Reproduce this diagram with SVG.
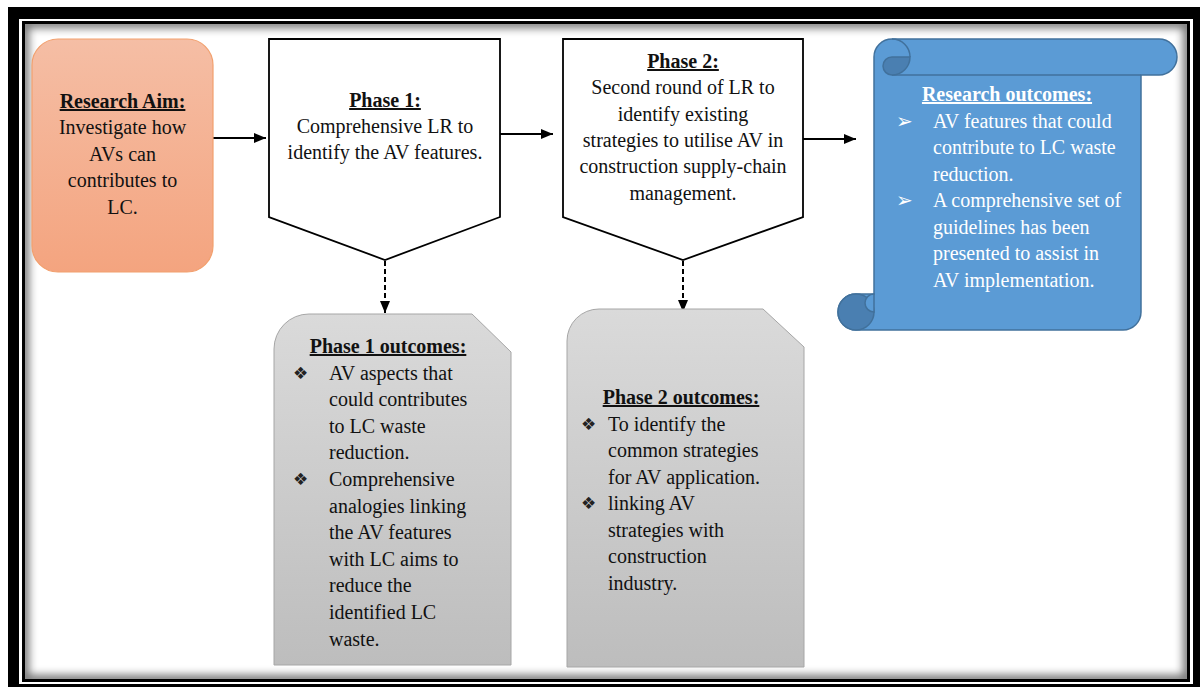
<svg xmlns="http://www.w3.org/2000/svg" width="1200" height="687" viewBox="0 0 1200 687">
<defs>
<style>
.t{font-family:"Liberation Serif","Times New Roman",serif;font-size:20px;fill:#111}
.h{font-weight:bold;text-decoration:underline}
.c{text-anchor:middle}
.w{fill:#fff}
.b{font-family:"DejaVu Sans",sans-serif;font-size:17px;fill:#222}
.bw{font-family:"DejaVu Sans",sans-serif;font-size:20px;fill:#fff}
.phase{fill:#fff;stroke:#000;stroke-width:1.8;stroke-linejoin:miter}
.out{stroke:#A6A6A6;stroke-width:1;fill:url(#gGray)}
.arr{stroke:#000;stroke-width:2;fill:none}
.dash{stroke:#000;stroke-width:2;fill:none;stroke-dasharray:5 3}
</style>
<linearGradient id="gGray" x1="0" y1="0" x2="0" y2="1">
<stop offset="0" stop-color="#DADADA"/><stop offset="1" stop-color="#BDBDBD"/>
</linearGradient>
<linearGradient id="gOrange" x1="0" y1="0" x2="0" y2="1">
<stop offset="0" stop-color="#F5BEA5"/><stop offset="1" stop-color="#F4A47F"/>
</linearGradient>
<marker id="ah" viewBox="0 0 12 10" refX="12" refY="5" markerWidth="12" markerHeight="10" markerUnits="userSpaceOnUse" orient="auto">
<path d="M0,0 L12,5 L0,10 Z" fill="#000"/>
</marker>
<clipPath id="innerClip"><rect x="25" y="24" width="1162" height="655"/></clipPath>
<filter id="blur" x="-5%" y="-5%" width="110%" height="110%"><feGaussianBlur stdDeviation="4"/></filter>
</defs>

<g id="frame">
<rect x="8" y="7" width="1192" height="680" fill="#000"/>
<rect x="19" y="19" width="1174" height="665" fill="#fff"/>
<rect x="22" y="21" width="1168" height="661" fill="#000"/>
<rect x="25" y="24" width="1162" height="655" fill="#fff"/>
<g clip-path="url(#innerClip)">
<rect x="24" y="23" width="1164" height="657" fill="none" stroke="#000" stroke-opacity="0.55" stroke-width="10" filter="url(#blur)"/>
</g>
</g>

<g id="connectors">
<line class="arr" x1="213" y1="138" x2="266" y2="138" marker-end="url(#ah)"/>
<line class="arr" x1="500" y1="134" x2="553" y2="134" marker-end="url(#ah)"/>
<line class="arr" x1="803" y1="139" x2="856" y2="139" marker-end="url(#ah)"/>
<line class="dash" x1="385" y1="261" x2="385" y2="313" marker-end="url(#ah)"/>
<line class="dash" x1="683" y1="261" x2="683" y2="312" marker-end="url(#ah)"/>
</g>

<g id="research-aim">
<rect x="32" y="39" width="181" height="233" rx="26" ry="26" fill="url(#gOrange)" stroke="#F2A06E" stroke-width="1.2"/>
<text class="t h c" x="122.5" y="108">Research Aim:</text>
<text class="t c" x="122.5" y="134">Investigate how</text>
<text class="t c" x="122.5" y="161">AVs can</text>
<text class="t c" x="122.5" y="187">contributes to</text>
<text class="t c" x="122.5" y="214">LC.</text>
</g>

<g id="phase1">
<polygon class="phase" points="269,39 500,39 500,217 385,260 269,217"/>
<text class="t h c" x="385" y="107">Phase 1:</text>
<text class="t c" x="385" y="133">Comprehensive LR to</text>
<text class="t c" x="385" y="159">identify the AV features.</text>
</g>

<g id="phase2">
<polygon class="phase" points="563,39 803,39 803,217 683,260 563,217"/>
<text class="t h c" x="683" y="68">Phase 2:</text>
<text class="t c" x="683" y="94">Second round of LR to</text>
<text class="t c" x="683" y="121">identify existing</text>
<text class="t c" x="683" y="147">strategies to utilise AV in</text>
<text class="t c" x="683" y="173">construction supply-chain</text>
<text class="t c" x="683" y="200">management.</text>
</g>

<g id="research-outcomes">
<path d="M874,294 L874,57 A18,18 0 0 1 892,39 L1159,39 A18,18 0 0 1 1159,75 L1141,75 L1141,312 A18,18 0 0 1 1123,330 L856,330 A18,18 0 0 1 856,294 Z" fill="#5B9BD5" stroke="#41719C" stroke-width="1.5"/>
<line x1="892" y1="75" x2="1141" y2="75" stroke="#41719C" stroke-width="1.5"/>
<path d="M910,57 A18,18 0 0 1 892,75 A9,9 0 0 1 892,57 Z" fill="#4A7FB1" stroke="#41719C" stroke-width="1.5"/>
<path d="M892,39 A18,18 0 0 1 910,57" fill="none" stroke="#41719C" stroke-width="1.5"/>
<circle cx="856" cy="312" r="18" fill="#4A7FB1" stroke="#41719C" stroke-width="1.5"/>
<path d="M874,294 A9,9 0 0 0 874,312 Z" fill="#5B9BD5" stroke="#41719C" stroke-width="1.5"/>
<text class="t h c w" x="1007" y="101">Research outcomes:</text>
<text class="bw" x="896" y="128">➢</text>
<text class="t w" x="933" y="128">AV features that could</text>
<text class="t w" x="933" y="154">contribute to LC waste</text>
<text class="t w" x="933" y="181">reduction.</text>
<text class="bw" x="896" y="207">➢</text>
<text class="t w" x="933" y="207">A comprehensive set of</text>
<text class="t w" x="933" y="234">guidelines has been</text>
<text class="t w" x="933" y="260">presented to assist in</text>
<text class="t w" x="933" y="287">AV implementation.</text>
</g>

<g id="phase1-outcomes">
<path class="out" d="M274,665 L274,349 A35,35 0 0 1 309,314 L472,314 L511,352 L511,665 Z"/>
<text class="t h c" x="388" y="353">Phase 1 outcomes:</text>
<text class="b" x="293" y="379">❖</text>
<text class="t" x="329" y="380">AV aspects that</text>
<text class="t" x="329" y="406">could contributes</text>
<text class="t" x="329" y="433">to LC waste</text>
<text class="t" x="329" y="459">reduction.</text>
<text class="b" x="293" y="485">❖</text>
<text class="t" x="329" y="486">Comprehensive</text>
<text class="t" x="329" y="513">analogies linking</text>
<text class="t" x="329" y="539">the AV features</text>
<text class="t" x="329" y="566">with LC aims to</text>
<text class="t" x="329" y="592">reduce the</text>
<text class="t" x="329" y="619">identified LC</text>
<text class="t" x="329" y="646">waste.</text>
</g>

<g id="phase2-outcomes">
<path class="out" d="M567,667 L567,341 A32,32 0 0 1 599,309 L763,309 L804,347 L804,667 Z"/>
<text class="t h c" x="681" y="404">Phase 2 outcomes:</text>
<text class="b" x="581" y="430">❖</text>
<text class="t" x="608" y="431">To identify the</text>
<text class="t" x="608" y="457">common strategies</text>
<text class="t" x="608" y="484">for AV application.</text>
<text class="b" x="581" y="509">❖</text>
<text class="t" x="608" y="510">linking AV</text>
<text class="t" x="608" y="537">strategies with</text>
<text class="t" x="608" y="563">construction</text>
<text class="t" x="608" y="590">industry.</text>
</g>
</svg>
